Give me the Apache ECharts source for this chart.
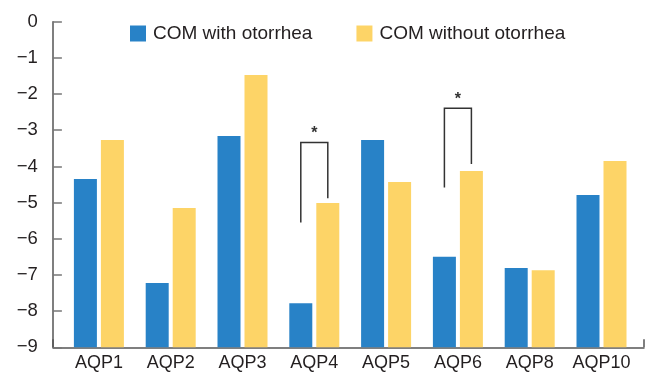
<!DOCTYPE html>
<html>
<head>
<meta charset="utf-8">
<script src="https://cdn.jsdelivr.net/npm/echarts@6/dist/echarts.min.js"></script>
<style>
html,body{margin:0;padding:0;background:#fff;}
#chart{width:648px;height:378px;}
</style>
</head>
<body>
<div id="chart"></div>
<script>
var categories = ['AQP1','AQP2','AQP3','AQP4','AQP5','AQP6','AQP8','AQP10'];
var withOtorrhea = [-4.35, -7.22, -3.16, -7.78, -3.27, -6.50, -6.81, -4.79];
var withoutOtorrhea = [-3.27, -5.15, -1.47, -5.01, -4.43, -4.13, -6.87, -3.85];
var seriesNames = ['COM with otorrhea', 'COM without otorrhea'];
var yMin = -9, yMax = 0, yStep = 1;
// significance brackets
var sigCategories = ['AQP4', 'AQP6'];
var sigTop = [-3.34, -2.39];
var sigLeftEnd = [-5.55, -4.58];
var sigRightEnd = [-4.88, -3.93];
var sigMark = ['*', '*'];

var FONT = 'Liberation Sans, Arial, Helvetica, sans-serif';
var TXT = '#231f20';
var BAR_W = 23, BAR_GAP = 4;

function shift(v) { return v - yMin; }
function fmt(v) {
  var r = Math.round(v + yMin);
  return r < 0 ? '\u2212' + Math.abs(r) : String(r);
}

var bracketData = sigCategories.map(function (c, i) {
  return [categories.indexOf(c), shift(sigLeftEnd[i]), shift(sigRightEnd[i]), shift(sigTop[i]), i];
});

var chart = echarts.init(document.getElementById('chart'), null, {renderer: 'canvas'});
chart.setOption({
  animation: false,
  backgroundColor: '#fff',
  legend: {
    data: seriesNames,
    left: 125, top: 19,
    icon: 'rect',
    itemWidth: 16, itemHeight: 16,
    itemGap: 44,
    textStyle: {fontFamily: FONT, fontSize: 19, color: TXT, padding: [0, 0, 0, 2]}
  },
  grid: [
    {left: 63, right: 10.6, top: 21.7, bottom: 30.7, containLabel: false},
    {left: 53, right: 4, top: 21.7, bottom: 30.7, containLabel: false}
  ],
  xAxis: [
    {
      type: 'category', data: categories, gridIndex: 0,
      axisLine: {show: false}, axisTick: {show: false},
      axisLabel: {fontFamily: FONT, fontSize: 18, color: TXT, margin: 7, interval: 0}
    },
    {
      type: 'value', gridIndex: 1, min: 0, max: 1, interval: 1,
      axisLine: {show: true, lineStyle: {color: '#555', width: 1.5}},
      axisTick: {show: true, inside: true, length: 8, lineStyle: {color: '#555', width: 1.5}},
      axisLabel: {show: false}, splitLine: {show: false}
    }
  ],
  yAxis: [
    {
      type: 'value', gridIndex: 0, min: 0, max: yMax - yMin, interval: yStep,
      offset: 10.1,
      axisLine: {show: true, lineStyle: {color: '#555', width: 1.5}},
      axisTick: {show: true, inside: true, length: 9, lineStyle: {color: '#777', width: 1.5}},
      axisLabel: {fontFamily: FONT, fontSize: 18.5, color: TXT, margin: 15, formatter: fmt},
      splitLine: {show: false}
    },
    {
      type: 'value', gridIndex: 1, min: 0, max: 1, show: false
    }
  ],
  series: [
    {
      name: seriesNames[0], type: 'bar', xAxisIndex: 0, yAxisIndex: 0,
      data: withOtorrhea.map(shift), barWidth: BAR_W, barGap: (BAR_GAP / BAR_W * 100) + '%',
      itemStyle: {color: '#2882c7'}
    },
    {
      name: seriesNames[1], type: 'bar', xAxisIndex: 0, yAxisIndex: 0,
      data: withoutOtorrhea.map(shift), barWidth: BAR_W,
      itemStyle: {color: '#fdd467'}
    },
    {
      type: 'custom', xAxisIndex: 0, yAxisIndex: 0, silent: true,
      data: bracketData,
      renderItem: function (params, api) {
        var cx = api.coord([api.value(0), 0])[0];
        var off = (BAR_W + BAR_GAP) / 2;
        var xl = cx - off, xr = cx + off;
        var yl = api.coord([api.value(0), api.value(1)])[1];
        var yr = api.coord([api.value(0), api.value(2)])[1];
        var yt = api.coord([api.value(0), api.value(3)])[1];
        return {
          type: 'group',
          children: [
            {type: 'polyline', shape: {points: [[xl, yl], [xl, yt], [xr, yt], [xr, yr]]},
             style: {stroke: '#333', lineWidth: 1.5, fill: null}},
            {type: 'text', style: {text: sigMark[api.value(4)], x: cx, y: yt - 9,
             align: 'center', verticalAlign: 'middle', font: 'bold 16px ' + FONT, fill: '#333'}}
          ]
        };
      }
    }
  ]
});
</script>
</body>
</html>
